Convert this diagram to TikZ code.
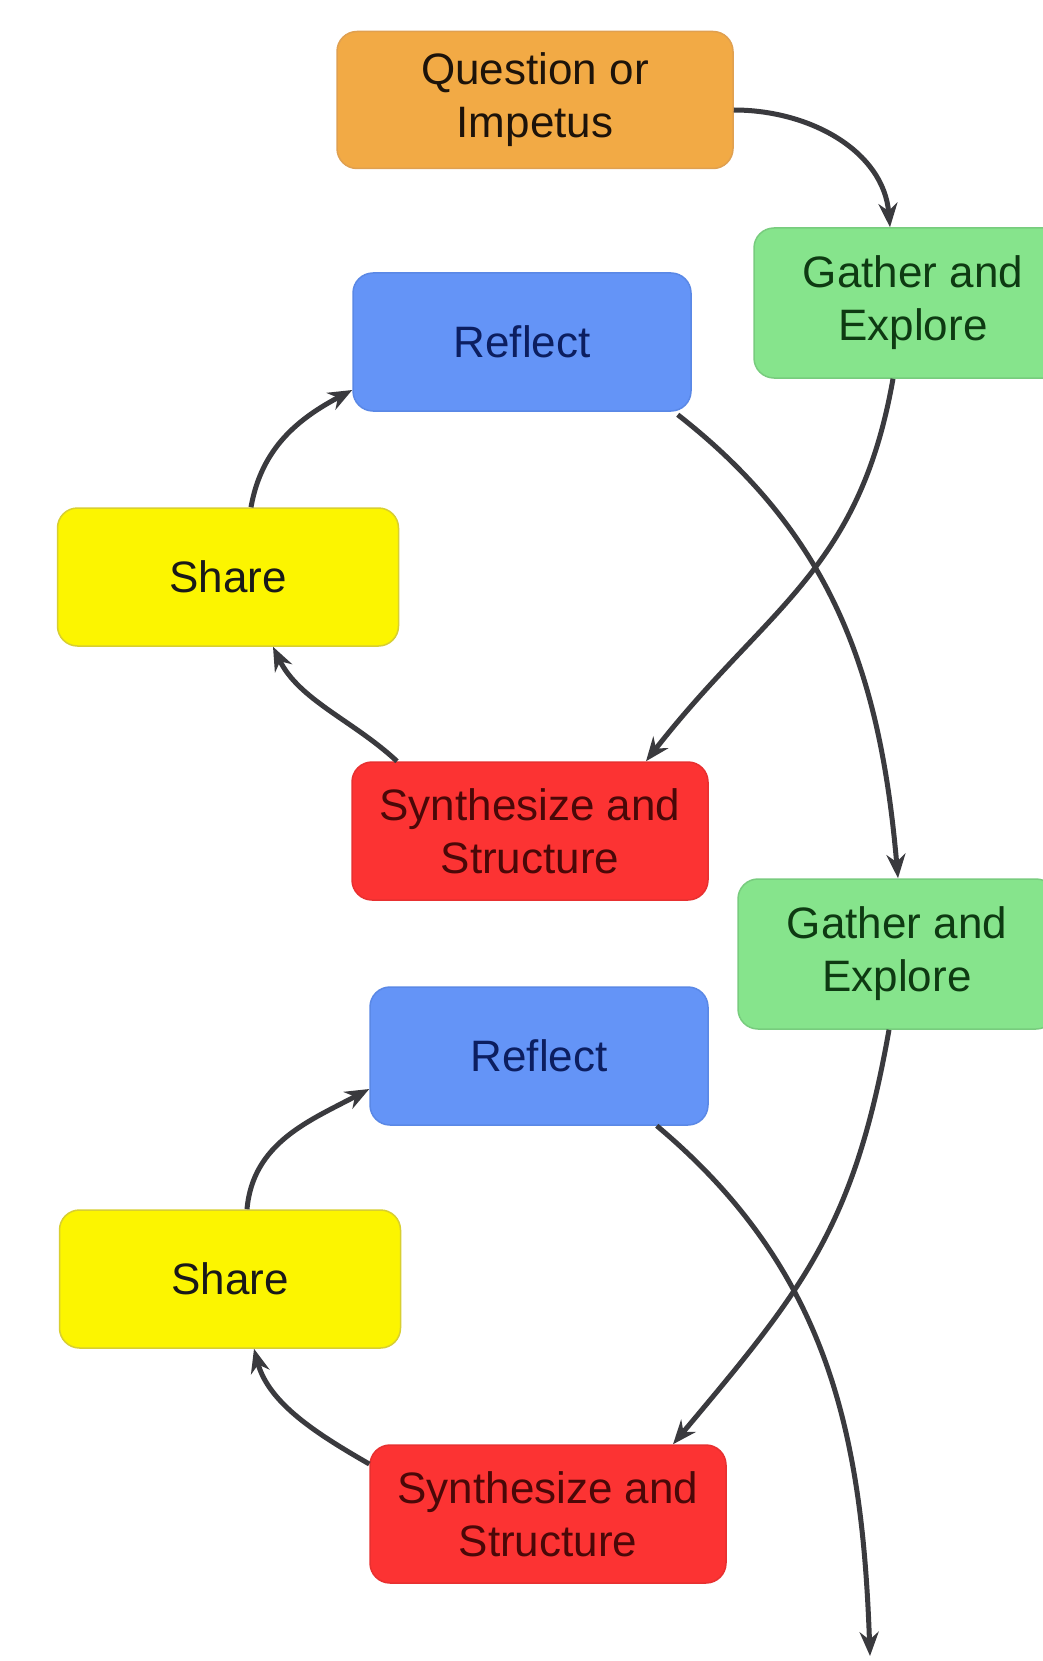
\documentclass[tikz,border=0pt]{standalone}
\usepackage{fontspec}
\setmainfont{Liberation Sans}
\usetikzlibrary{arrows.meta}
\definecolor{qfill}{HTML}{F2AA45}
\definecolor{qdraw}{HTML}{E0A050}
\definecolor{gfill}{HTML}{86E48C}
\definecolor{gdraw}{HTML}{78CC7E}
\definecolor{gtext}{HTML}{0E3A12}
\definecolor{rfill}{HTML}{6494F7}
\definecolor{rdraw}{HTML}{5A88E6}
\definecolor{rtext}{HTML}{0C1E60}
\definecolor{yfill}{HTML}{FCF500}
\definecolor{ydraw}{HTML}{D8CF30}
\definecolor{sfill}{HTML}{FC3333}
\definecolor{sdraw}{HTML}{E83030}
\definecolor{stext}{HTML}{4A0808}
\definecolor{arr}{HTML}{3A3A3E}
\tikzset{
  box/.style={rectangle, rounded corners=20pt, line width=1.5pt, align=center,
    font=\fontsize{44}{53}\selectfont, inner sep=0pt},
  qbox/.style={box, fill=qfill, draw=qdraw, text=black!85!brown, minimum width=396pt, minimum height=137pt},
  gbox/.style={box, fill=gfill, draw=gdraw, text=gtext, minimum width=318pt, minimum height=150pt},
  rbox/.style={box, fill=rfill, draw=rdraw, text=rtext, minimum width=338pt, minimum height=138pt},
  ybox/.style={box, fill=yfill, draw=ydraw, text=black!90, minimum width=341pt, minimum height=138pt},
  sbox/.style={box, fill=sfill, draw=sdraw, text=stext, minimum width=356pt, minimum height=138pt},
  flow/.style={draw=arr, line width=5pt, -{Stealth[length=24pt,width=19pt]}}
}
\begin{document}
\begin{tikzpicture}[x=1pt,y=-1pt]
\useasboundingbox (0,0) rectangle (1043,1661);
\fill[white] (0,0) rectangle (1043,1661);

\node[qbox] (q) at (535,100) {Question or\\Impetus};
\node[gbox] (g1) at (913,303) {Gather and\\Explore};
\node[rbox] (r1) at (522,342) {Reflect};
\node[ybox] (s1) at (228,577) {Share};
\node[sbox] (y1) at (530,831) {Synthesize and\\Structure};
\node[gbox] (g2) at (897,954) {Gather and\\Explore};
\node[rbox] (r2) at (539,1056) {Reflect};
\node[ybox] (s2) at (230,1279) {Share};
\node[sbox] (y2) at (548,1514) {Synthesize and\\Structure};
\coordinate (end) at (870,1656);

\draw[flow] ([yshift=-10pt]q.east) to[out=0,in=95] ([xshift=-23pt]g1.north);
\draw[flow] ([xshift=-20pt]g1.south) to[out=-100,in=52,looseness=1.1] ([xshift=116pt]y1.north);
\draw[flow] ([xshift=-133pt]y1.north) to[out=137,in=-64,looseness=0.9] ([xshift=45pt]s1.south);
\draw[flow] ([xshift=23pt]s1.north) to[out=80,in=208] ([yshift=-48pt]r1.west);
\draw[flow] ([xshift=-14pt,yshift=-3pt]r1.south east) to[out=-38,in=95] ([xshift=1pt]g2.north);
\draw[flow] ([xshift=-8pt]g2.south) to[out=-100,in=50,looseness=1.1] ([xshift=125pt]y2.north);
\draw[flow] ([yshift=50pt]y2.west) to[out=150,in=-75,looseness=0.9] ([xshift=24pt]s2.south);
\draw[flow] ([xshift=17pt]s2.north) to[out=85,in=208] ([yshift=-33pt]r2.west);
\draw[flow] ([xshift=-52pt]r2.south east) to[out=-40,in=92] (end);
\end{tikzpicture}
\end{document}
